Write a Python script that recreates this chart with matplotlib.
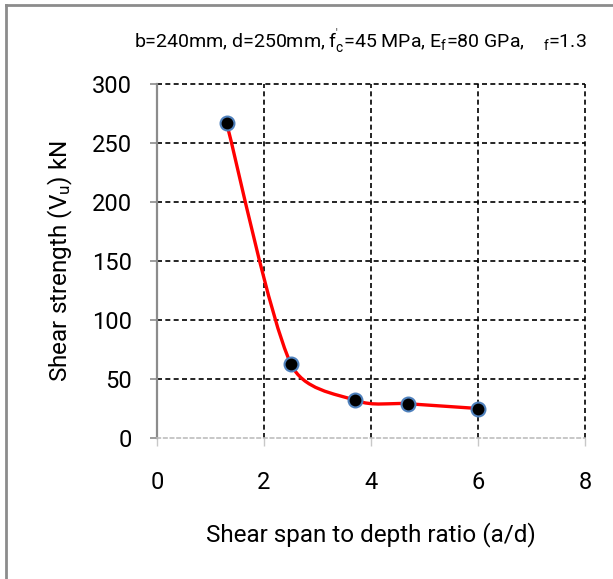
import matplotlib
matplotlib.use("Agg")
import matplotlib.pyplot as plt
import numpy as np
from matplotlib.path import Path
from matplotlib.patches import PathPatch
from matplotlib.lines import Line2D

# data
ad_ratio = [1.3, 2.5, 3.7, 4.7, 6.0]
shear_kN = [267, 63, 32, 29, 25]
x_ticks = [0, 2, 4, 6, 8]
y_ticks = [0, 50, 100, 150, 200, 250, 300]

FONT = ["Roboto", "DejaVu Sans"]
plt.rcParams["font.family"] = FONT
plt.rcParams["mathtext.fontset"] = "custom"
plt.rcParams["mathtext.rm"] = "Roboto"
plt.rcParams["mathtext.it"] = "Roboto"


def smooth_path(ax, xs, ys):
    # spreadsheet-like smoothed line: bezier segments built in display space,
    # catmull-rom tangents, shortened next to a much shorter segment
    pts = ax.transData.transform(np.column_stack([xs, ys]))
    p = np.vstack([pts[0], pts, pts[-1]])
    verts = [pts[0]]
    codes = [Path.MOVETO]
    for i in range(1, len(p) - 2):
        d01 = np.hypot(*(p[i] - p[i - 1]))
        d12 = np.hypot(*(p[i + 1] - p[i]))
        d23 = np.hypot(*(p[i + 2] - p[i + 1]))
        f1 = min(1 / 6, d12 / (d01 + d12) / 2.4) if d01 > 0 else 1 / 6
        f2 = min(1 / 6, d12 / (d12 + d23) / 2.4) if d23 > 0 else 1 / 6
        c1 = p[i] + (p[i + 1] - p[i - 1]) * f1
        c2 = p[i + 1] - (p[i + 2] - p[i]) * f2
        verts += [c1, c2, p[i + 1]]
        codes += [Path.CURVE4] * 3
    verts = ax.transData.inverted().transform(np.array(verts))
    return Path(verts, codes)


fig = plt.figure(figsize=(6.13, 5.79), dpi=100)
ax = fig.add_axes([157 / 613, 1 - 438 / 579, 428 / 613, 354 / 579])

# outer chart frame (left and top edges are visible in the crop)
fig.add_artist(Line2D([6 / 613, 6 / 613], [0, 1 - 4.5 / 579], transform=fig.transFigure,
                      color="#8c8c8c", lw=2))
fig.add_artist(Line2D([6 / 613, 1], [1 - 4.5 / 579, 1 - 4.5 / 579], transform=fig.transFigure,
                      color="#8c8c8c", lw=2))

ax.set_xlim(0, 8)
ax.set_ylim(0, 300)
ax.set_xticks(x_ticks)
ax.set_yticks(y_ticks)

for xv in x_ticks[1:]:
    ax.axvline(xv, color="black", lw=1.2, ls=(0, (3, 2)), zorder=1, clip_on=False)
for yv in y_ticks[1:]:
    ax.axhline(yv, color="black", lw=1.2, ls=(0, (3, 2)), zorder=1, clip_on=False)

for s in ["top", "right"]:
    ax.spines[s].set_visible(False)
ax.spines["left"].set_color("#8c8c8c")
ax.spines["left"].set_linewidth(1.6)
ax.spines["bottom"].set_color("#bdbdbd")
ax.spines["bottom"].set_linewidth(1.2)
ax.spines["bottom"].set_linestyle((0, (2, 2)))

ax.tick_params(axis="y", length=5, width=1.2, color="#8c8c8c", labelsize=17, pad=13)
ax.tick_params(axis="x", length=6, width=1, color="#c8c8c8", labelsize=17, pad=18)

ax.add_patch(PathPatch(smooth_path(ax, ad_ratio, shear_kN), facecolor="none",
                       edgecolor="#ff0000", lw=2.4, zorder=3))
ax.plot(ad_ratio, shear_kN, "o", ms=10, mfc="black", mec="#4f81bd", mew=1.5, zorder=4)

ax.set_xlabel("Shear span to depth ratio (a/d)", fontsize=17.5, labelpad=20)
ax.set_ylabel("Shear strength (V$_\\mathregular{u}$) kN", fontsize=17.5, labelpad=12)

fig.text(360 / 613, 1 - 42 / 579,
         "b=240mm, d=250mm, f$_\\mathregular{c}^{\\mathregular{'}}$=45 MPa, "
         "E$_\\mathregular{f}$=80 GPa,    $_\\mathregular{f}$=1.3",
         ha="center", va="center", fontsize=14)

fig.savefig("out.png", dpi=100)
